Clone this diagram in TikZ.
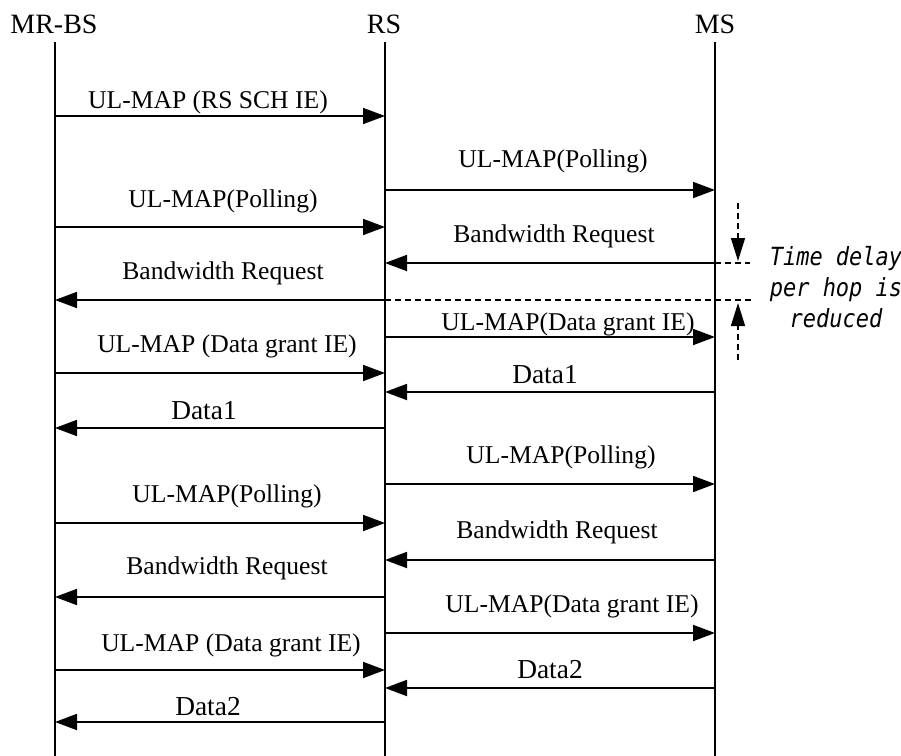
\documentclass[tikz,border=0pt]{standalone}
\usepackage{fontspec}
\setmainfont{Liberation Serif}
\newfontfamily\delayfont{DejaVu Sans Mono}
\usetikzlibrary{arrows.meta}

\begin{document}
\begin{tikzpicture}[x=0.5pt,y=-0.5pt,
  >={Triangle[length=11pt,width=8pt]},
  lifeline/.style={line width=0.9pt},
  msg/.style={line width=0.9pt,->},
  head/.style={font=\fontsize{14}{16}\selectfont,anchor=base,inner sep=0pt},
  lbl/.style={font=\fontsize{12.8}{15}\selectfont,anchor=base,inner sep=0pt},
  dlbl/.style={font=\fontsize{13.7}{16}\selectfont,anchor=base,inner sep=0pt},
  gap/.style={dash pattern=on 3pt off 2pt,line width=0.7pt}]
  \useasboundingbox (0,0) rectangle (901,756);

  %lifelines
  \coordinate (bs) at (55,42);
  \coordinate (rs) at (385,42);
  \coordinate (ms) at (715,42);
  \coordinate (end) at (0,756);
  \node[head] (bs name) at (54,33) {MR-BS};
  \node[head] (rs name) at (384,33) {RS};
  \node[head] (ms name) at (715,33) {MS};
  \foreach \c in {bs,rs,ms}
    \draw[lifeline] (\c) -- (\c |- end);

  %messages
  \foreach \y/\a/\b/\lx/\ly/\t in {
      116/bs/rs/208/108/{UL-MAP (RS SCH IE)},
      190/rs/ms/553/167/{UL-MAP(Polling)},
      227/bs/rs/223/207/{UL-MAP(Polling)},
      263/ms/rs/554/242/{Bandwidth Request},
      300/rs/bs/223/279/{Bandwidth Request},
      337/rs/ms/568/330/{UL-MAP(Data grant IE)},
      373/bs/rs/227/352/{UL-MAP (Data grant IE)},
      484/rs/ms/561/463/{UL-MAP(Polling)},
      523/bs/rs/227/502/{UL-MAP(Polling)},
      560/ms/rs/557/538/{Bandwidth Request},
      597/rs/bs/227/574/{Bandwidth Request},
      633/rs/ms/572/612/{UL-MAP(Data grant IE)},
      670/bs/rs/231/651/{UL-MAP (Data grant IE)}}
  {
    \coordinate (m) at (0,\y);
    \draw[msg] (\a |- m) -- (\b |- m);
    \node[lbl] (l\y) at (\lx,\ly) {\t};
  }

  %data
  \foreach \y/\a/\b/\lx/\ly/\t in {
      392/ms/rs/545/383/Data1,
      428/rs/bs/204/419/Data1,
      688/ms/rs/550/678/Data2,
      722/rs/bs/208/715/Data2}
  {
    \coordinate (m) at (0,\y);
    \draw[msg] (\a |- m) -- (\b |- m);
    \node[dlbl] (l\y) at (\lx,\ly) {\t};
  }

  %delay per hop
  \coordinate (gap top) at (750,263);
  \coordinate (gap bot) at (752,300);
  \coordinate (d top) at (738,203);
  \coordinate (d top tip) at (738,261);
  \coordinate (d bot) at (738,360);
  \coordinate (d bot tip) at (738,303);
  \draw[gap] (ms |- gap top) -- (gap top);
  \draw[gap] (rs |- gap bot) -- (gap bot);
  \draw[gap,-{Triangle[length=11.5pt,width=7pt]}] (d top) -- (d top tip);
  \draw[gap,-{Triangle[length=11.5pt,width=7pt]}] (d bot) -- (d bot tip);
  \node[font=\delayfont\itshape\fontsize{12.5}{15.5}\selectfont,align=center,inner sep=0pt,xscale=0.88] (delay) at (836,287) {Time delay\\per hop is\\reduced};

\end{tikzpicture}
\end{document}
